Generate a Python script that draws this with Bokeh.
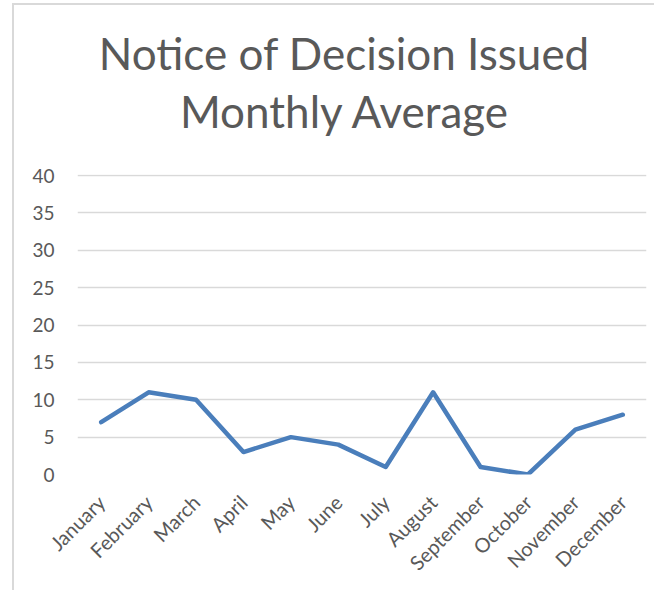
import math
from bokeh.plotting import figure
from bokeh.models import Range1d, FixedTicker, Div
from bokeh.layouts import column
from bokeh.embed import file_html
from bokeh.resources import INLINE

months = ["January", "February", "March", "April", "May", "June", "July",
          "August", "September", "October", "November", "December"]
values = [7, 11, 10, 3, 5, 4, 1, 11, 1, 0, 6, 8]
y_ticks = [0, 5, 10, 15, 20, 25, 30, 35, 40]
title_line1 = "Notice of Decision Issued"
title_line2 = "Monthly Average"

TEXT = "#595959"
FONT = "Lato"

title = Div(text=f"{title_line1}<br>{title_line2}", width=640, height=157,
            margin=(0, 0, 0, 0),
            styles={"font-family": FONT, "font-size": "44px", "color": TEXT,
                    "line-height": "58px", "text-align": "center",
                    "padding-left": "20px", "padding-top": "19px",
                    "box-sizing": "border-box", "white-space": "nowrap",
                    "background-color": "white"})

p = figure(x_range=months, y_range=Range1d(0, 40.15), width=640, height=428,
           output_backend="svg", toolbar_location=None,
           min_border_left=63, min_border_right=8, min_border_top=12, min_border_bottom=116)
p.title = None
p.outline_line_color = None
p.background_fill_color = "white"
p.border_fill_color = "white"
p.x_range.range_padding = 0

p.line(x=months, y=values, line_color="#4a7ebb", line_width=4.5,
       line_cap="round", line_join="round")

p.yaxis.ticker = FixedTicker(ticks=y_ticks)
p.yaxis.axis_line_color = None
p.yaxis.major_tick_line_color = None
p.yaxis.minor_tick_line_color = None
p.yaxis.major_tick_out = 0
p.yaxis.major_tick_in = 0
p.yaxis.major_label_standoff = 23
p.yaxis.major_label_text_font = FONT
p.yaxis.major_label_text_font_size = "19px"
p.yaxis.major_label_text_color = TEXT

p.xaxis.axis_line_color = None
p.xaxis.major_tick_line_color = None
p.xaxis.major_tick_out = 0
p.xaxis.major_tick_in = 0
p.xaxis.major_label_orientation = math.pi / 4
p.xaxis.major_label_standoff = 24
p.xaxis.major_label_text_font = FONT
p.xaxis.major_label_text_font_size = "20px"
p.xaxis.major_label_text_color = TEXT

p.xgrid.grid_line_color = None
p.ygrid.grid_line_color = "#d9d9d9"
p.ygrid.grid_line_width = 1.5

layout = column(title, p, spacing=0)
layout.styles = {"border-left": "2px solid #d9d9d9", "border-top": "2px solid #d9d9d9",
                 "margin-left": "12px", "margin-top": "3px"}

open("out.html", "w").write(file_html(layout, INLINE))
